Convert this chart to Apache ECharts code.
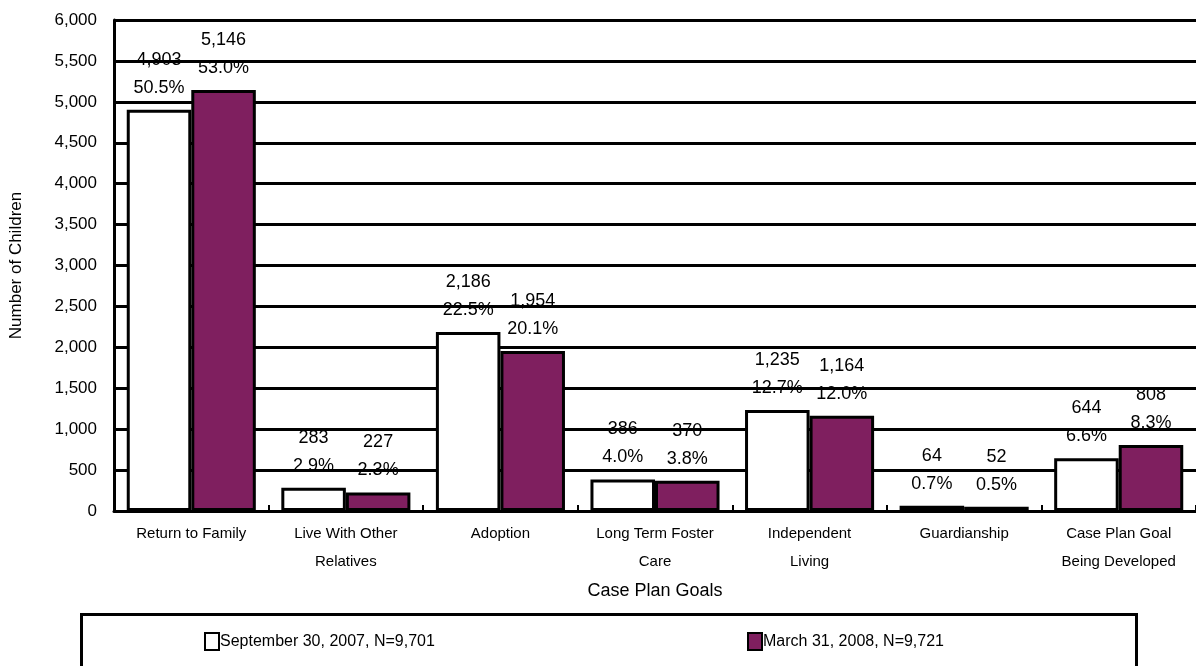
<!DOCTYPE html>
<html>
<head>
<meta charset="utf-8">
<script src="https://cdn.jsdelivr.net/npm/echarts@6/dist/echarts.min.js"></script>
<style>html,body{margin:0;padding:0;background:#fff}#c{width:1196px;height:666px}</style>
</head>
<body>
<div id="c"></div>
<script>
const categories = ['Return to Family','Live With Other\nRelatives','Adoption','Long Term Foster\nCare','Independent\nLiving','Guardianship','Case Plan Goal\nBeing Developed'];
const seriesNames = ['September 30, 2007, N=9,701','March 31, 2008, N=9,721'];
const sept = [4903,283,2186,386,1235,64,644];
const septPct = ['50.5%','2.9%','22.5%','4.0%','12.7%','0.7%','6.6%'];
const mar = [5146,227,1954,370,1164,52,808];
const marPct = ['53.0%','2.3%','20.1%','3.8%','12.0%','0.5%','8.3%'];
const yMin = 0, yMax = 6000, yStep = 500;

const FONT = 'Liberation Sans, Arial, sans-serif';
const PURPLE = '#7f1f5f';
const fmt = v => v.toLocaleString('en-US');

const chart = echarts.init(document.getElementById('c'));

function labelSeries(name, data, pct) {
  return {
    name: name + ' labels', type: 'bar', xAxisIndex: 1, data: data, z: 1,
    barGap: '0%', barCategoryGap: '16.5%',
    itemStyle: {color: 'transparent', borderWidth: 0},
    silent: true,
    label: {
      show: true, position: 'top', distance: 8,
      fontFamily: FONT, fontSize: 18, color: '#000', lineHeight: 28,
      formatter: p => fmt(p.value) + '\n' + pct[p.dataIndex]
    }
  };
}

chart.setOption({
  animation: false,
  grid: {left: 113, right: 0, top: 20, bottom: 155, containLabel: false},
  legend: [
    {data: [seriesNames[0]], left: 199, top: 627, icon: 'rect', itemWidth: 14, itemHeight: 17, itemGap: 0,
     textStyle: {fontFamily: FONT, fontSize: 16, color: '#000', padding: [0,0,0,-4]}},
    {data: [seriesNames[1]], left: 742, top: 627, icon: 'rect', itemWidth: 14, itemHeight: 17, itemGap: 0,
     textStyle: {fontFamily: FONT, fontSize: 16, color: '#000', padding: [0,0,0,-4]}}
  ],
  graphic: [{
    type: 'rect', left: 80, top: 613, z: -1,
    shape: {width: 1055, height: 70},
    style: {fill: '#fff', stroke: '#000', lineWidth: 3}
  }],
  xAxis: [{
    type: 'category', data: categories, z: 6,
    name: 'Case Plan Goals', nameLocation: 'middle', nameGap: 71,
    nameTextStyle: {fontFamily: FONT, fontSize: 18, color: '#000'},
    axisLine: {show: true, lineStyle: {color: '#000', width: 3}},
    axisTick: {show: true, inside: true, length: 6, lineStyle: {color: '#000', width: 2}},
    axisLabel: {interval: 0, margin: 9, fontFamily: FONT, fontSize: 15, color: '#000', lineHeight: 28}
  }, {
    type: 'category', data: categories, show: false
  }],
  yAxis: {
    type: 'value', min: yMin, max: yMax, interval: yStep, z: 3,
    name: 'Number of Children', nameLocation: 'middle', nameGap: 89,
    nameTextStyle: {fontFamily: FONT, fontSize: 17, color: '#000'},
    axisLine: {show: true, lineStyle: {color: '#000', width: 3}},
    axisTick: {show: false},
    axisLabel: {margin: 17, fontFamily: FONT, fontSize: 17, color: '#000', formatter: v => fmt(v)},
    splitLine: {show: true, lineStyle: {color: '#000', width: 3}}
  },
  series: [
    {name: seriesNames[0], type: 'bar', xAxisIndex: 0, data: sept, z: 5,
     barGap: '0%', barCategoryGap: '16.5%',
     itemStyle: {color: '#fff', borderColor: '#000', borderWidth: 3}},
    {name: seriesNames[1], type: 'bar', xAxisIndex: 0, data: mar, z: 5,
     barGap: '0%', barCategoryGap: '16.5%',
     itemStyle: {color: PURPLE, borderColor: '#000', borderWidth: 3}},
    labelSeries(seriesNames[0], sept, septPct),
    labelSeries(seriesNames[1], mar, marPct)
  ]
});
</script>
</body>
</html>
